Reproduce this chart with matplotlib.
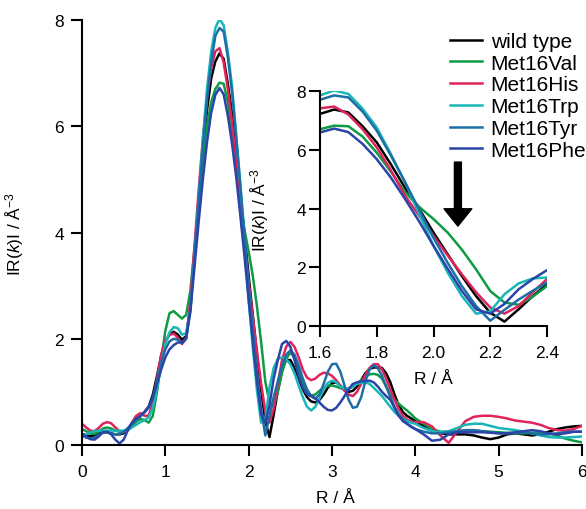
import matplotlib
matplotlib.use("Agg")
import matplotlib.pyplot as plt
import numpy as np

plt.rcParams['font.family'] = ['Liberation Sans', 'DejaVu Sans']
plt.rcParams['mathtext.fontset'] = 'custom'
plt.rcParams['mathtext.rm'] = 'Liberation Sans'
plt.rcParams['mathtext.it'] = 'Liberation Sans:italic'

# ---------------- data ----------------
R = [0.00, 0.05, 0.10, 0.15, 0.20, 0.25, 0.30, 0.35, 0.40, 0.45,
     0.50, 0.55, 0.60, 0.65, 0.70, 0.75, 0.80, 0.85, 0.90, 0.95,
     1.00, 1.05, 1.10, 1.15, 1.20, 1.25, 1.30, 1.35, 1.40, 1.45,
     1.50, 1.55, 1.60, 1.65, 1.70, 1.75, 1.80, 1.85, 1.90, 1.95,
     2.00, 2.05, 2.10, 2.15, 2.20, 2.25, 2.30, 2.35, 2.40, 2.45,
     2.50, 2.55, 2.60, 2.65, 2.70, 2.75, 2.80, 2.85, 2.90, 2.95,
     3.00, 3.05, 3.10, 3.15, 3.20, 3.25, 3.30, 3.35, 3.40, 3.45,
     3.50, 3.55, 3.60, 3.65, 3.70, 3.75, 3.80, 3.85, 3.90, 3.95,
     4.00, 4.10, 4.20, 4.30, 4.40, 4.50, 4.60, 4.70, 4.80, 4.90,
     5.00, 5.10, 5.20, 5.30, 5.40, 5.50, 5.60, 5.70, 5.80, 5.90, 6.00]

wild_type = [0.21, 0.18, 0.17, 0.18, 0.22, 0.24, 0.24, 0.22, 0.20, 0.20,
             0.22, 0.28, 0.36, 0.46, 0.55, 0.62, 0.72, 0.95, 1.30, 1.68,
             1.95, 2.08, 2.13, 2.08, 1.98, 2.05, 2.60, 3.60, 4.60, 5.50,
             6.30, 6.90, 7.22, 7.37, 7.27, 6.80, 6.25, 5.50, 4.70, 3.98,
             3.18, 2.44, 1.70, 1.02, 0.45, 0.15, 0.57, 1.02, 1.42, 1.60,
             1.60, 1.45, 1.25, 1.05, 0.90, 0.82, 0.80, 0.85, 0.95, 1.08,
             1.16, 1.18, 1.12, 1.04, 1.00, 1.02, 1.10, 1.22, 1.35, 1.43,
             1.46, 1.46, 1.45, 1.35, 1.18, 0.95, 0.75, 0.62, 0.55, 0.50,
             0.45, 0.36, 0.28, 0.22, 0.20, 0.20, 0.20, 0.18, 0.14, 0.11,
             0.14, 0.20, 0.22, 0.20, 0.18, 0.20, 0.25, 0.30, 0.33, 0.35, 0.36]

met16val = [0.30, 0.26, 0.22, 0.21, 0.25, 0.31, 0.33, 0.31, 0.27, 0.25,
            0.25, 0.28, 0.35, 0.44, 0.49, 0.47, 0.42, 0.55, 1.00, 1.60,
            2.15, 2.48, 2.52, 2.45, 2.38, 2.45, 2.90, 3.70, 4.50, 5.30,
            6.00, 6.45, 6.70, 6.82, 6.80, 6.45, 5.90, 5.25, 4.55, 4.05,
            3.64, 3.18, 2.60, 1.93, 1.19, 0.80, 0.72, 1.00, 1.36, 1.62,
            1.74, 1.65, 1.42, 1.18, 1.00, 0.93, 0.95, 1.02, 1.08, 1.12,
            1.12, 1.10, 1.07, 1.05, 1.06, 1.10, 1.15, 1.22, 1.28, 1.33,
            1.34, 1.32, 1.25, 1.10, 0.95, 0.85, 0.78, 0.71, 0.65, 0.58,
            0.50, 0.40, 0.30, 0.25, 0.25, 0.26, 0.27, 0.27, 0.26, 0.25,
            0.24, 0.23, 0.22, 0.22, 0.23, 0.23, 0.22, 0.18, 0.12, 0.08, 0.05]

met16his = [0.40, 0.33, 0.27, 0.26, 0.32, 0.40, 0.43, 0.41, 0.33, 0.26,
            0.24, 0.30, 0.42, 0.55, 0.60, 0.55, 0.55, 0.80, 1.25, 1.70,
            1.97, 2.07, 2.10, 2.02, 1.90, 2.00, 2.70, 3.75, 4.80, 5.75,
            6.55, 7.10, 7.41, 7.47, 7.20, 6.70, 6.08, 5.30, 4.43, 3.75,
            3.07, 2.40, 1.76, 1.15, 0.63, 0.42, 0.68, 1.15, 1.60, 1.85,
            1.94, 1.85, 1.65, 1.42, 1.27, 1.22, 1.25, 1.32, 1.36, 1.35,
            1.30, 1.22, 1.12, 1.02, 0.95, 0.92, 1.00, 1.15, 1.32, 1.45,
            1.52, 1.52, 1.42, 1.25, 1.05, 0.85, 0.68, 0.55, 0.48, 0.44,
            0.43, 0.43, 0.35, 0.18, 0.04, 0.25, 0.45, 0.53, 0.55, 0.55,
            0.53, 0.50, 0.46, 0.44, 0.42, 0.38, 0.32, 0.28, 0.27, 0.30, 0.36]

met16trp = [0.14, 0.20, 0.24, 0.26, 0.27, 0.27, 0.27, 0.27, 0.27, 0.27,
            0.27, 0.29, 0.33, 0.38, 0.43, 0.47, 0.52, 0.70, 1.05, 1.50,
            1.90, 2.12, 2.22, 2.20, 2.08, 2.10, 2.55, 3.55, 4.65, 5.75,
            6.70, 7.40, 7.85, 8.02, 7.90, 7.40, 6.76, 5.85, 4.89, 3.80,
            2.73, 1.82, 1.02, 0.42, 0.50, 1.08, 1.45, 1.62, 1.65, 1.62,
            1.52, 1.35, 1.12, 0.90, 0.72, 0.65, 0.72, 0.88, 1.05, 1.17,
            1.21, 1.18, 1.10, 1.06, 1.06, 1.10, 1.15, 1.17, 1.18, 1.15,
            1.08, 1.00, 0.92, 0.82, 0.72, 0.62, 0.55, 0.50, 0.45, 0.42,
            0.40, 0.32, 0.26, 0.24, 0.26, 0.32, 0.38, 0.40, 0.40, 0.36,
            0.32, 0.30, 0.28, 0.25, 0.22, 0.18, 0.15, 0.14, 0.14, 0.15, 0.16]

met16tyr = [0.18, 0.14, 0.12, 0.14, 0.19, 0.23, 0.24, 0.22, 0.20, 0.21,
            0.25, 0.32, 0.40, 0.48, 0.55, 0.62, 0.70, 0.90, 1.20, 1.55,
            1.80, 1.95, 2.00, 1.98, 1.92, 2.00, 2.55, 3.55, 4.60, 5.60,
            6.50, 7.20, 7.70, 7.85, 7.78, 7.30, 6.65, 5.80, 4.89, 3.95,
            3.00, 2.15, 1.36, 0.68, 0.18, 0.55, 0.90, 1.20, 1.48, 1.70,
            1.78, 1.70, 1.50, 1.25, 1.05, 0.92, 0.87, 0.95, 1.15, 1.38,
            1.52, 1.53, 1.38, 1.12, 0.85, 0.70, 0.72, 0.90, 1.20, 1.42,
            1.50, 1.45, 1.30, 1.10, 0.90, 0.72, 0.58, 0.48, 0.40, 0.34,
            0.30, 0.25, 0.22, 0.22, 0.24, 0.26, 0.28, 0.28, 0.26, 0.24,
            0.22, 0.22, 0.23, 0.24, 0.22, 0.20, 0.20, 0.22, 0.24, 0.25, 0.25]

met16phe = [0.21, 0.16, 0.11, 0.10, 0.16, 0.24, 0.25, 0.20, 0.10, 0.03,
            0.10, 0.28, 0.42, 0.50, 0.54, 0.62, 0.72, 0.88, 1.15, 1.42,
            1.65, 1.80, 1.88, 1.93, 1.93, 2.02, 2.50, 3.35, 4.20, 5.00,
            5.70, 6.25, 6.59, 6.72, 6.60, 6.20, 5.68, 5.05, 4.32, 3.55,
            2.73, 1.95, 1.19, 0.57, 0.42, 0.75, 1.25, 1.60, 1.90, 1.96,
            1.85, 1.60, 1.30, 1.08, 0.95, 0.92, 0.88, 0.80, 0.72, 0.66,
            0.65, 0.70, 0.80, 0.92, 1.05, 1.15, 1.18, 1.20, 1.21, 1.21,
            1.18, 1.10, 1.00, 0.92, 0.85, 0.70, 0.55, 0.45, 0.40, 0.35,
            0.30, 0.20, 0.08, 0.10, 0.20, 0.24, 0.24, 0.24, 0.24, 0.23,
            0.22, 0.22, 0.24, 0.26, 0.28, 0.26, 0.22, 0.20, 0.22, 0.25, 0.25]

labels = ['wild type', 'Met16Val', 'Met16His', 'Met16Trp', 'Met16Tyr', 'Met16Phe']
series = [wild_type, met16val, met16his, met16trp, met16tyr, met16phe]
colors = ['#000000', '#0f9a45', '#e0245a', '#19b6b8', '#1d6ea6', '#2a44a8']

main_xticks = [0, 1, 2, 3, 4, 5, 6]
main_yticks = [0, 2, 4, 6, 8]
inset_xticks = [1.6, 1.8, 2.0, 2.2, 2.4]
inset_xticklabels = ['1.6', '1.8', '2.0', '2.2', '2.4']
inset_yticks = [0, 2, 4, 6, 8]

W, H = 586, 510
fig = plt.figure(figsize=(W / 100, H / 100), dpi=100)

def px_axes(x0, y0, x1, y1):
    return [x0 / W, 1 - y1 / H, (x1 - x0) / W, (y1 - y0) / H]

ylab = r'IR($\it{k}$)I / Å$^{\mathregular{-3}}$'
FS = 12.5
LW = 1.8

# main axes
ax = fig.add_axes(px_axes(82, 21, 582, 446))
ax.patch.set_alpha(0)
for s, c in zip(series, colors):
    ax.plot(R, s, color=c, lw=LW, solid_capstyle='round')
ax.set_xlim(0, 6)
ax.set_ylim(0, 8)
ax.set_xticks(main_xticks)
ax.set_yticks(main_yticks)
for sp in ['top', 'right']:
    ax.spines[sp].set_visible(False)
for sp in ['left', 'bottom']:
    ax.spines[sp].set_linewidth(1.5)
ax.tick_params(direction='out', length=8, width=1.5, labelsize=FS)
ax.tick_params(axis='x', pad=6)
ax.tick_params(axis='y', pad=5)
ax.set_xlabel('R / Å', fontsize=FS)
ax.set_ylabel(ylab, fontsize=FS)
ax.xaxis.set_label_coords(0.506, -0.105)
ax.yaxis.set_label_coords(-0.112, 0.5)

# inset axes
axi = fig.add_axes(px_axes(320, 92, 547, 327))
axi.patch.set_alpha(0)
for s, c in zip(series, colors):
    axi.plot(R, s, color=c, lw=LW)
axi.set_xlim(1.6, 2.4)
axi.set_ylim(0, 8)
axi.set_xticks(inset_xticks)
axi.set_xticklabels(inset_xticklabels)
axi.set_yticks(inset_yticks)
for sp in ['top', 'right']:
    axi.spines[sp].set_visible(False)
for sp in ['left', 'bottom']:
    axi.spines[sp].set_linewidth(1.5)
axi.tick_params(direction='out', length=8, width=1.5, labelsize=FS)
axi.tick_params(axis='x', pad=6)
axi.tick_params(axis='y', pad=2)
axi.set_xlabel('R / Å', fontsize=FS)
axi.set_ylabel(ylab, fontsize=FS)
axi.xaxis.set_label_coords(0.5, -0.19)
axi.yaxis.set_label_coords(-0.215, 0.5)

# arrow in inset
axi.annotate('', xy=(2.086, 3.4), xytext=(2.086, 5.58),
             arrowprops=dict(arrowstyle='simple,head_width=2.0,head_length=1.25,tail_width=0.5',
                             color='black', mutation_scale=10, shrinkA=0, shrinkB=0))

# legend
LFS = 15
handles = [plt.Line2D([], [], color=c, lw=LW) for c in colors]
fig.legend(handles, labels, loc='upper left', bbox_to_anchor=(450 / W, 1 - 33 / H),
           frameon=False, fontsize=LFS, handlelength=1.55, handletextpad=0.4,
           labelspacing=0.13, borderpad=0, borderaxespad=0)

fig.savefig('out.png', dpi=100)
